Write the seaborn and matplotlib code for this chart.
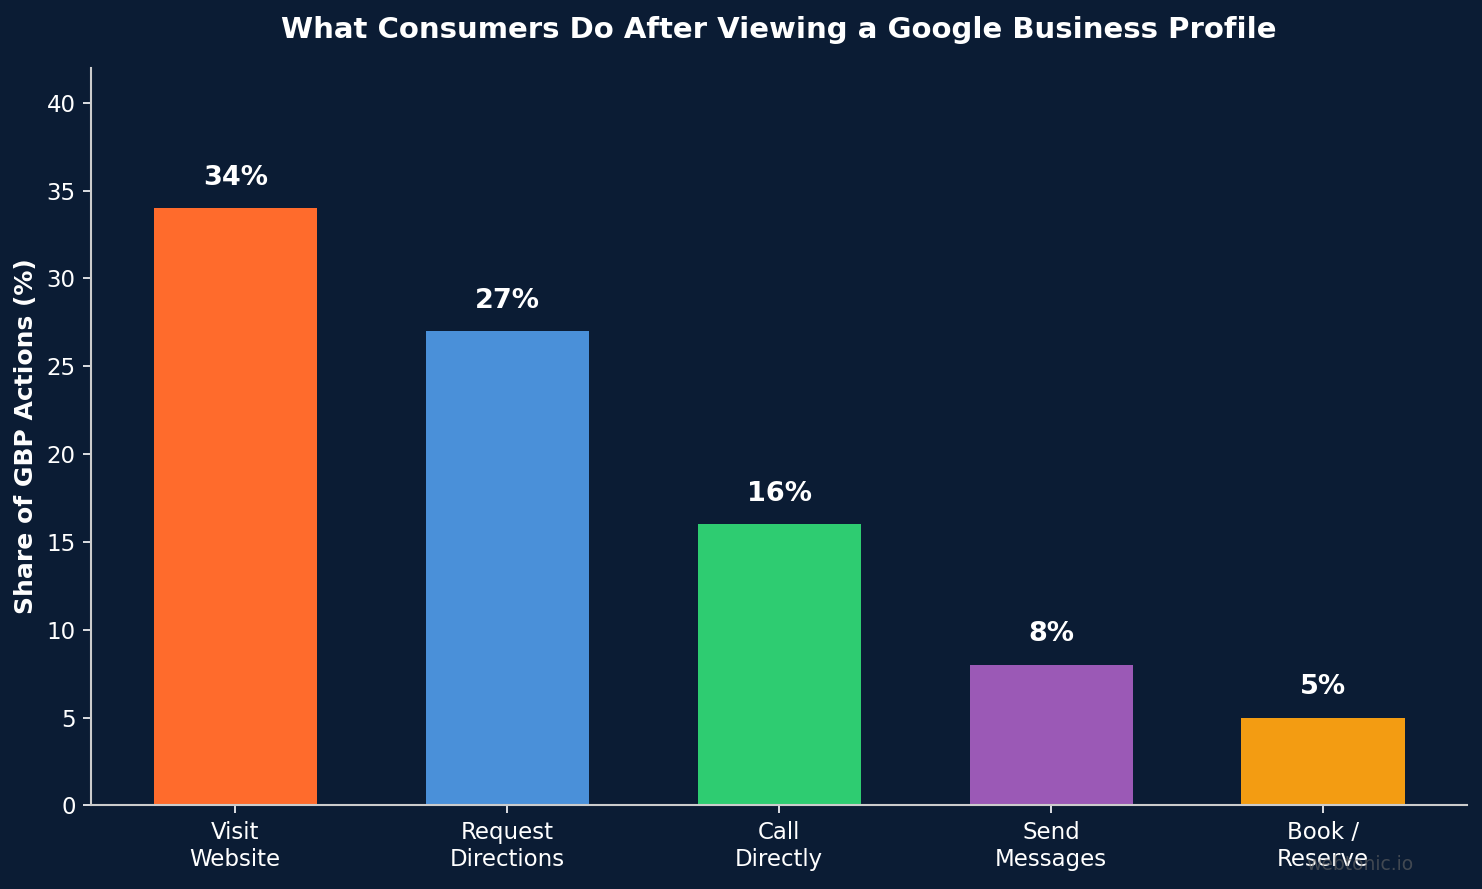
import numpy as np
import pandas as pd
import matplotlib
matplotlib.use('Agg')
import matplotlib.pyplot as plt
import seaborn as sns

actions = ['Visit\nWebsite', 'Request\nDirections', 'Call\nDirectly', 'Send\nMessages', 'Book /\nReserve']
shares = [34, 27, 16, 8, 5]
colors = ['#FF6B2C', '#4A90D9', '#2ECC71', '#9B59B6', '#F39C12']

bg = '#0B1C34'
sns.set_theme(style='ticks')
plt.rcParams['font.family'] = ['DejaVu Sans']

df = pd.DataFrame({'action': actions, 'share': shares})

fig, ax = plt.subplots(figsize=(9.88, 5.927), dpi=150)
fig.patch.set_facecolor(bg)
ax.set_facecolor(bg)

sns.barplot(data=df, x='action', y='share', hue='action', palette=colors,
            width=0.6, legend=False, saturation=1, linewidth=0, ax=ax)

for i, v in enumerate(shares):
    ax.text(i, v + 1, f'{v}%', ha='center', va='bottom', color='white',
            fontsize=13, fontweight='bold')

ax.set_ylim(0, 42)
ax.set_xlim(-0.53, 4.53)
ax.set_title('What Consumers Do After Viewing a Google Business Profile',
             color='white', fontsize=14, fontweight='bold', pad=14)
ax.set_xlabel('')
ax.set_ylabel('Share of GBP Actions (%)', color='white', fontsize=12, fontweight='bold')
ax.tick_params(colors='white', labelsize=11, width=0.8, length=4)
for s in ['top', 'right']:
    ax.spines[s].set_visible(False)
for s in ['left', 'bottom']:
    ax.spines[s].set_color('#cccccc')
    ax.spines[s].set_linewidth(1)

# watermark
fig.text(0.954, 0.017, 'webtonic.io', color='#666666', alpha=0.6, fontsize=9,
         ha='right', va='bottom')

plt.subplots_adjust(left=0.0615, right=0.99, top=0.924, bottom=0.094)
plt.savefig('out.png', facecolor=bg)
